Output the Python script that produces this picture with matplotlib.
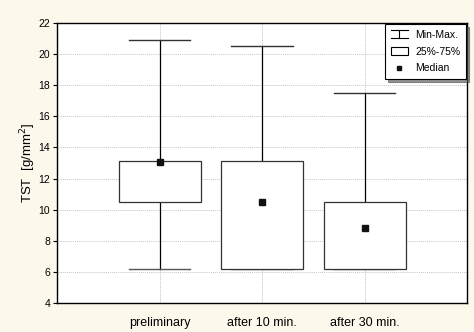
import matplotlib
matplotlib.use("Agg")
import matplotlib.pyplot as plt
from matplotlib.patches import Rectangle
from matplotlib.lines import Line2D
from matplotlib.legend_handler import HandlerBase

plt.rcParams['font.family'] = ['Liberation Sans', 'DejaVu Sans']

groups = ["preliminary", "after 10 min.", "after 30 min."]
mins = [6.2, 6.2, 6.2]
q1 = [10.5, 6.2, 6.2]
medians = [13.05, 10.5, 8.8]
q3 = [13.1, 13.1, 10.5]
maxs = [20.9, 20.5, 17.5]


class MinMaxHandler(HandlerBase):
    '''Draws a small I-beam for the whisker entry'''
    def create_artists(self, legend, orig_handle, xdescent, ydescent,
                       width, height, fontsize, trans):
        x0, x1 = -xdescent, -xdescent + width
        xm = (x0 + x1) / 2
        y0, y1 = -ydescent - 0.5, -ydescent + height + 0.5
        kw = dict(color="black", lw=0.8, transform=trans)
        return [Line2D([x0, x1], [y1, y1], **kw),
                Line2D([x0, x1], [y0, y0], **kw),
                Line2D([xm, xm], [y0, y1], **kw)]


fig = plt.figure(figsize=(4.74, 3.32), dpi=100, facecolor="#fdf8ec")
ax = fig.add_axes([57 / 474, 1 - 303 / 332, 410 / 474, 280 / 332])
ax.set_facecolor("white")

pos = range(1, len(groups) + 1)
for x, lo, a, m, b, hi in zip(pos, mins, q1, medians, q3, maxs):
    ax.plot([x, x], [b, hi], color="black", lw=0.9, zorder=2)
    ax.plot([x, x], [lo, a], color="black", lw=0.9, zorder=2)
    ax.plot([x - 0.3, x + 0.3], [hi, hi], color="#333333", lw=1.0, zorder=2)
    ax.plot([x - 0.3, x + 0.3], [lo, lo], color="#555555", lw=1.0, zorder=2)
    ax.add_patch(Rectangle((x - 0.4, a), 0.8, b - a, facecolor="white",
                           edgecolor="#333333", lw=0.9, zorder=3))
    ax.plot(x, m, marker="s", ms=4, color="#111111", ls="none", zorder=4)

ax.set_xlim(0, 4)
ax.set_ylim(4, 22)
ax.set_yticks(range(4, 23, 2))
ax.set_xticks(list(pos))
ax.set_xticklabels(groups, fontsize=9)
ax.tick_params(axis="y", labelsize=7.5, length=3, width=0.8, pad=2)
ax.tick_params(axis="x", length=0, pad=10)
ax.grid(True, color="#c4c4c4", ls=(0, (1, 1)), lw=0.7, zorder=0)
ax.set_axisbelow(True)
for s in ax.spines.values():
    s.set_linewidth(1.0)
    s.set_color("black")

ax.set_ylabel("TST  [g/mm$^2$]", fontsize=9.5, labelpad=0)

handles = [object(),
           Rectangle((0, 0), 1, 1, facecolor="white", edgecolor="black", lw=0.8),
           Line2D([], [], marker="s", ms=3.5, color="#111111", ls="none")]
leg = ax.legend(handles, ["Min-Max.", "25%-75%", "Median"],
                handler_map={object: MinMaxHandler()},
                loc="upper right", bbox_to_anchor=(1.0, 1.0),
                fontsize=7.5, frameon=True, fancybox=False,
                shadow={"alpha": 0.6},
                borderpad=0.55, labelspacing=0.65, handlelength=1.6,
                handletextpad=0.7, borderaxespad=0.1)
leg.get_frame().set_edgecolor("black")
leg.get_frame().set_linewidth(0.8)

fig.savefig("out.png", dpi=100, facecolor=fig.get_facecolor())
